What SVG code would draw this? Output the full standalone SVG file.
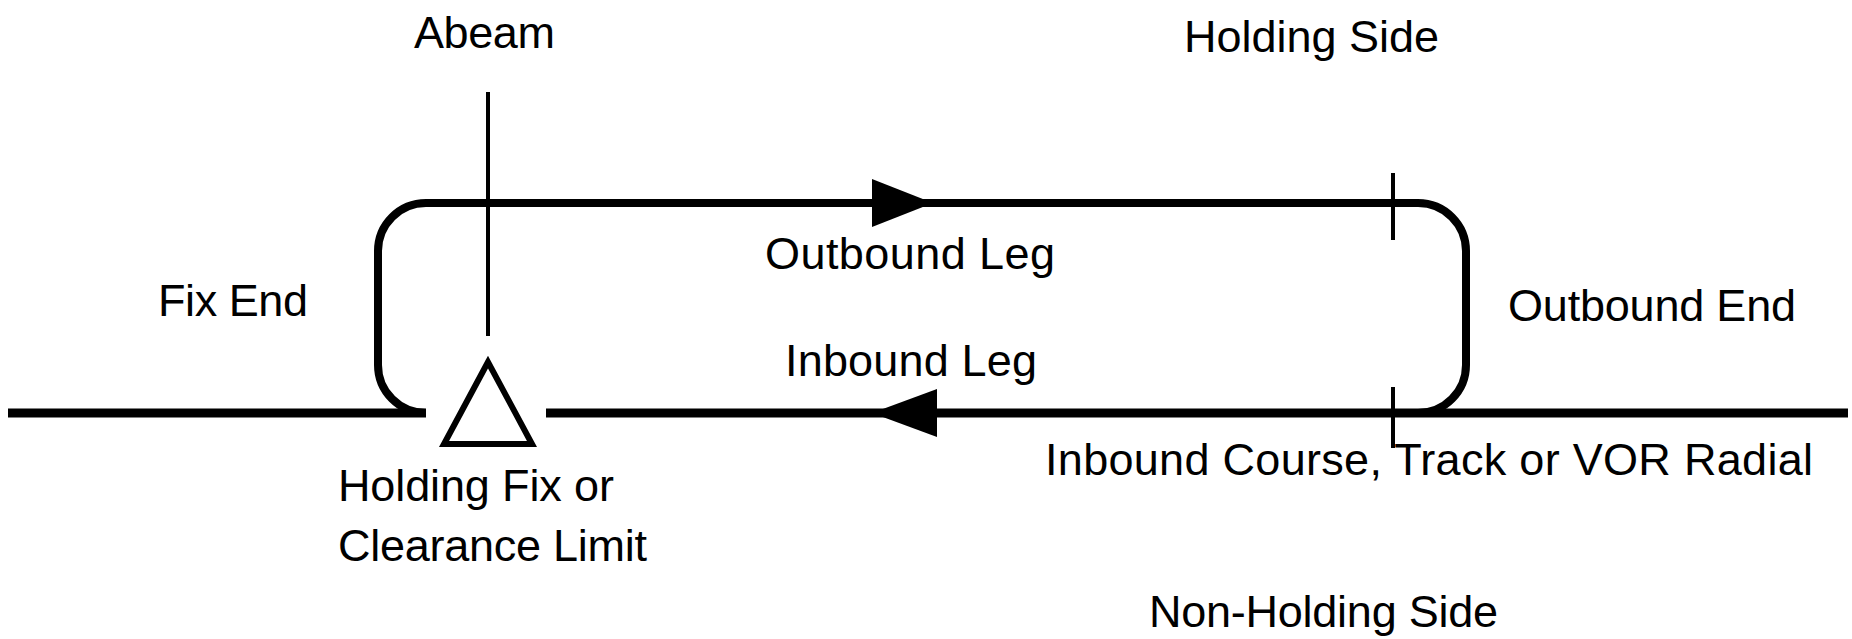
<svg xmlns="http://www.w3.org/2000/svg" width="1852" height="639" viewBox="0 0 1852 639">
  <style>
    .lbl { font-family: "Liberation Sans", Arial, sans-serif; font-size: 45px; fill: #000; }
    .loop { fill: none; stroke: #000; stroke-width: 8; }
    .course { fill: none; stroke: #000; stroke-width: 9; }
    .thin { fill: none; stroke: #000; stroke-width: 4; }
    .head { fill: #000; stroke: none; }
  </style>
  <rect width="1852" height="639" fill="#fff"/>

  <!-- racetrack pattern, course line, abeam line and ticks -->
  <g id="connectors">
    <path class="course" d="M8,413 H426 M546,413 H1848"/>
    <path class="loop" d="M426,413 A48,48 0 0 1 378,365 V251 A48,48 0 0 1 426,203 H1418 A48,48 0 0 1 1466,251 V365 A48,48 0 0 1 1418,413"/>
    <line class="thin" x1="488" y1="92" x2="488" y2="336"/>
    <line class="thin" x1="1393" y1="173" x2="1393" y2="240"/>
    <line class="thin" x1="1393" y1="387" x2="1393" y2="448"/>
    <polygon class="head" points="872,179 933,203 872,227"/>
    <polygon class="head" points="872,413 937,389 937,437"/>
  </g>

  <g id="holding-fix">
    <polygon points="488,362 444,444 532,444" fill="#fff" stroke="#000" stroke-width="6"/>
    <text class="lbl" x="338" y="501" textLength="276">Holding Fix or</text>
    <text class="lbl" x="338" y="561" textLength="309">Clearance Limit</text>
  </g>

  <g id="abeam"><text class="lbl" x="414" y="48" textLength="141">Abeam</text></g>
  <g id="holding-side"><text class="lbl" x="1184" y="52" textLength="255">Holding Side</text></g>
  <g id="fix-end"><text class="lbl" x="158" y="316" textLength="150">Fix End</text></g>
  <g id="outbound-leg"><text class="lbl" x="765" y="269" textLength="290">Outbound Leg</text></g>
  <g id="outbound-end"><text class="lbl" x="1508" y="321" textLength="288">Outbound End</text></g>
  <g id="inbound-leg"><text class="lbl" x="785" y="376" textLength="252">Inbound Leg</text></g>
  <g id="inbound-course"><text class="lbl" x="1045" y="475" textLength="768">Inbound Course, Track or VOR Radial</text></g>
  <g id="non-holding-side"><text class="lbl" x="1149" y="627" textLength="349">Non-Holding Side</text></g>
</svg>
